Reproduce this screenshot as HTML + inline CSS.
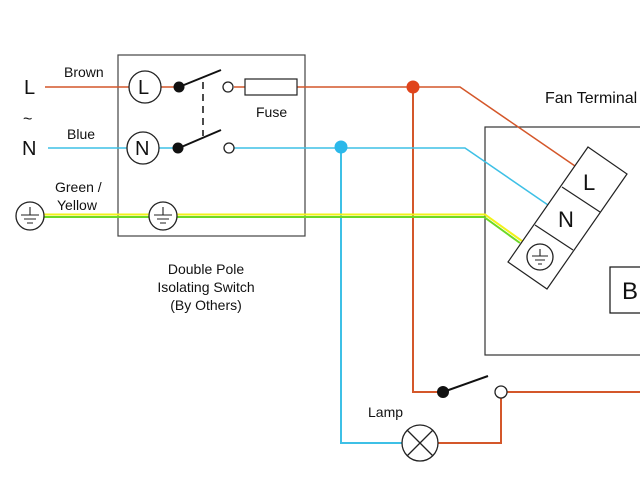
<!DOCTYPE html>
<html><head><style>
html,body{margin:0;padding:0;background:#fff}
svg{display:block}
text{font-family:"Liberation Sans",sans-serif;fill:#111}
</style></head><body>
<svg width="640" height="480" viewBox="0 0 640 480" xmlns="http://www.w3.org/2000/svg">
<g fill="none" stroke-width="1.5">
<rect x="118" y="55" width="187" height="181" stroke="#444" stroke-width="1.2"/>
<rect x="485" y="127" width="170" height="228" stroke="#333" stroke-width="1.2"/>
<rect x="610" y="267" width="50" height="46" stroke="#111" stroke-width="1.2"/>
<path d="M45 87H129 M161 87H179 M234 87H245 M297 87H460L575 166" stroke="#d4572a"/>
<path d="M413 87V392H443 M506 392H640 M501 398V443H438" stroke="#d4572a" stroke-width="2"/>
<path d="M48 148H127 M159 148H179 M234 148H465L548 205" stroke="#3ec0e6"/>
<path d="M341 148V443H402" stroke="#3ec0e6" stroke-width="2"/>
<path d="M44 214.5H485L522 241" stroke="#f2f21a" stroke-width="2"/>
<path d="M44 217H484L520 243" stroke="#6cd924" stroke-width="2"/>
<path d="M179 87L221 70 M179 148L221 130 M443 392L488 376" stroke="#111" stroke-width="2"/>
<path d="M203 82V136" stroke="#111" stroke-dasharray="7,5"/>
<rect x="245" y="79" width="52" height="16" stroke="#222" stroke-width="1.2"/>
<path d="M588 147L627 174L547 289L508 262Z M562 187L600 212 M535 225L573 250" stroke="#222" stroke-width="1.2"/>
</g>
<g stroke="#222" stroke-width="1.3">
<circle cx="145" cy="87" r="16" fill="#fff"/>
<circle cx="143" cy="148" r="16" fill="#fff"/>
<circle cx="228" cy="87" r="5" fill="#fff"/>
<circle cx="229" cy="148" r="5" fill="#fff"/>
<circle cx="501" cy="392" r="6" fill="#fff"/>
<circle cx="30" cy="216" r="14" fill="#fff"/>
<circle cx="163" cy="216" r="14" fill="#fff"/>
<circle cx="540" cy="257" r="13" fill="#fff"/>
<circle cx="420" cy="443" r="18" fill="#fff"/>
<path d="M407 430L433 456M433 430L407 456" fill="none"/>
<path d="M30 207V215M21 215H39M24 219H36M27 223H33 M163 207V215M154 215H172M157 219H169M160 223H166 M540 249V256M532 256H548M535 260H545M538 264H542" fill="none" stroke-width="1.1"/>
</g>
<circle cx="179" cy="87" r="5.5" fill="#111"/>
<circle cx="178" cy="148" r="5.5" fill="#111"/>
<circle cx="443" cy="392" r="6" fill="#111"/>
<circle cx="413" cy="87" r="6.5" fill="#e0441c"/>
<circle cx="341" cy="147" r="6.5" fill="#2bb8ea"/>
<g font-size="14">
<text x="64" y="77">Brown</text>
<text x="67" y="139">Blue</text>
<text x="55" y="192">Green /</text>
<text x="57" y="210">Yellow</text>
<text x="256" y="117">Fuse</text>
<text x="545" y="103" font-size="16">Fan Terminal</text>
<text x="368" y="417">Lamp</text>
<text x="206" y="274" text-anchor="middle">Double Pole</text>
<text x="206" y="292" text-anchor="middle">Isolating Switch</text>
<text x="206" y="310" text-anchor="middle">(By Others)</text>
</g>
<g font-size="20">
<text x="24" y="94">L</text>
<text x="23" y="124" font-size="16">~</text>
<text x="22" y="155">N</text>
<text x="138" y="94">L</text>
<text x="135" y="155">N</text>
<text x="583" y="190" font-size="22">L</text>
<text x="558" y="227" font-size="22">N</text>
<text x="622" y="299" font-size="24">B</text>
</g>
</svg>
</body></html>
